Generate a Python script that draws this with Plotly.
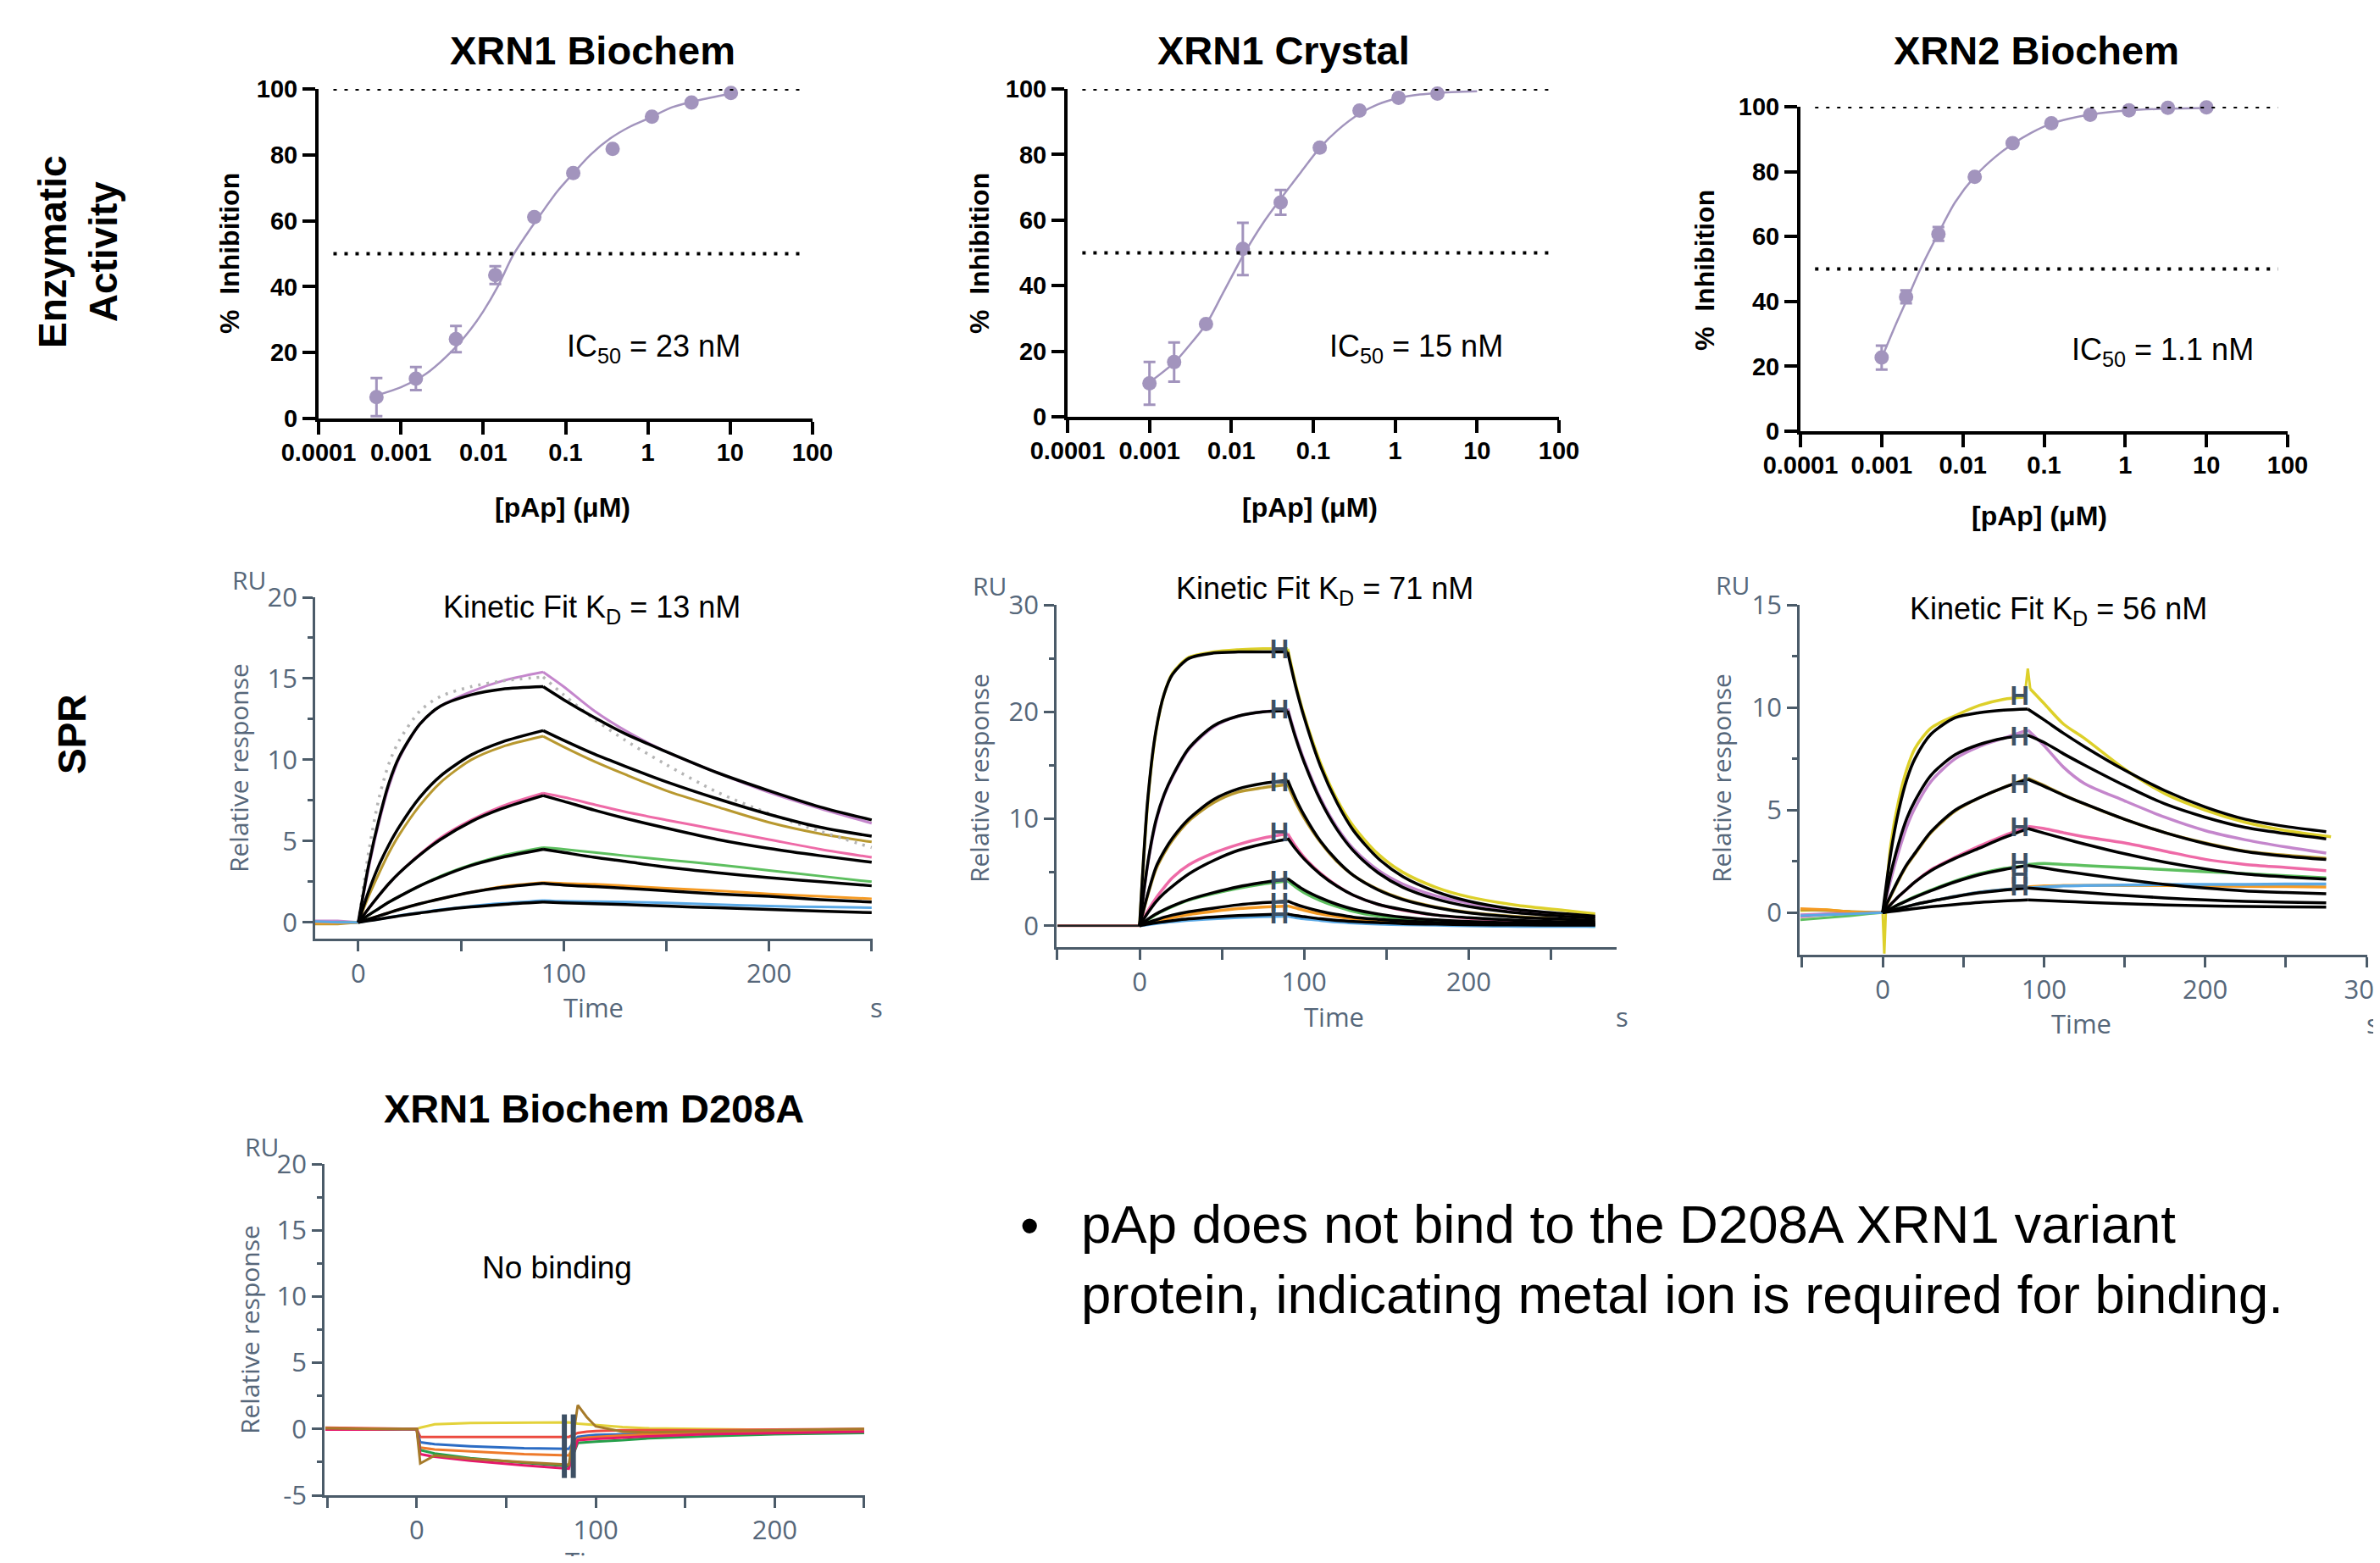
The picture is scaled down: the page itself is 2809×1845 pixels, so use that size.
import plotly.graph_objects as go

W, H = 2809, 1845          # browser window (reference) size
PAD = 8                    # default page margin around the plot div
FW, FH = W - 2 * PAD, H - 2 * PAD
DOM_DX = 4                 # horizontal nudge for plot areas


def fx(px):
    return (px - PAD) / FW


def fy(py):
    return 1 - (py - PAD) / FH


def dx(px):
    return fx(px + DOM_DX)


# ---------------- Enzymatic activity (dose-response) ----------------
X_TICKS = [0.0001, 0.001, 0.01, 0.1, 1, 10, 100]
X_TICK_TEXT = ["0.0001", "0.001", "0.01", "0.1", "1", "10", "100"]
Y_TICKS = [0, 20, 40, 60, 80, 100]
G_Y_TICKS = [-5, 0, 5, 10, 15, 20]
G_Y_TICK_TEXT = ["-5", "0", "5", "10", "15", "20"]

A_CONC = [0.000505, 0.00152, 0.00466, 0.014, 0.0417, 0.124, 0.373, 1.12, 3.39, 10.2]
A_INH = [6.5, 12.1, 24.1, 43.5, 61.1, 74.5, 81.8, 91.6, 95.9, 98.8]
A_ERR = [5.8, 3.5, 4.0, 2.7, 0, 0, 0, 0, 0, 0]
A_FIT_X = [0.0005, 0.001, 0.002, 0.004, 0.007, 0.01, 0.015, 0.023, 0.035, 0.05,
           0.08, 0.12, 0.2, 0.35, 0.6, 1, 2, 4, 10]
A_FIT_Y = [7.0, 9.5, 13.5, 20, 27, 32.5, 40, 49.5, 56.5, 62,
           69, 74, 80, 85, 88.5, 91, 94.5, 96.5, 98.5]

B_CONC = [0.001, 0.002, 0.0049, 0.0138, 0.040, 0.12, 0.367, 1.1, 3.28]
B_INH = [10.2, 16.7, 28.3, 51.2, 65.4, 82.1, 93.4, 97.3, 98.6]
B_ERR = [6.5, 6.0, 0, 8.0, 3.8, 0, 0, 0, 0]
B_FIT_X = [0.001, 0.002, 0.003, 0.005, 0.008, 0.0145, 0.025, 0.04, 0.07, 0.12,
           0.2, 0.37, 0.6, 1.1, 2, 3.3, 10]
B_FIT_Y = [10.5, 16.5, 21.5, 28.5, 38, 50, 59.5, 66.5, 74.5, 82,
           87.5, 92.5, 95.2, 97.2, 98.3, 98.8, 99.3]

C_CONC = [0.001, 0.002, 0.005, 0.014, 0.041, 0.123, 0.37, 1.11, 3.35, 10]
C_INH = [22.7, 41.4, 60.8, 78.4, 88.8, 94.9, 97.5, 98.9, 99.7, 99.8]
C_ERR = [3.7, 2.0, 2.1, 0, 0, 0, 0, 0, 0, 0]
C_FIT_X = [0.001, 0.0015, 0.002, 0.003, 0.005, 0.008, 0.014, 0.025, 0.041, 0.07,
           0.123, 0.2, 0.37, 1.11, 3.35, 10]
C_FIT_Y = [22.5, 33, 40, 50, 61, 70.5, 78.5, 84.5, 88.5, 92,
           94.8, 96.3, 97.6, 98.9, 99.4, 99.6]

# ---------------- SPR: XRN1 Biochem (KD 13 nM) ----------------
D_T_BASE = [-21, -10, 0]
D_T_ASSOC = [0, 5, 10, 15, 20, 30, 40, 55, 70, 90]
D_T_DISS = [90, 100, 115, 130, 150, 175, 200, 225, 250]
D_DATA_BASE = [[0.1, 0.1, 0], [-0.1, -0.1, 0], [0.0, 0.0, 0], [0.0, 0.0, 0],
               [-0.05, -0.05, 0], [0.05, 0.0, 0]]
D_DATA_ASSOC = [
    [0, 3.3, 6.1, 8.4, 10.1, 12.2, 13.3, 14.2, 14.85, 15.4],
    [0, 1.6, 3.0, 4.3, 5.4, 7.2, 8.6, 10.0, 10.8, 11.45],
    [0, 0.85, 1.65, 2.4, 3.05, 4.2, 5.2, 6.3, 7.15, 7.95],
    [0, 0.45, 0.85, 1.25, 1.6, 2.25, 2.85, 3.55, 4.1, 4.6],
    [0, 0.2, 0.4, 0.6, 0.8, 1.15, 1.45, 1.85, 2.2, 2.45],
    [0, 0.1, 0.2, 0.3, 0.42, 0.6, 0.78, 1.0, 1.17, 1.35],
]
D_DATA_DISS = [
    [15.4, 14.5, 13.0, 11.8, 10.5, 9.2, 8.0, 7.0, 6.1],
    [11.45, 10.8, 9.9, 9.1, 8.1, 7.1, 6.15, 5.45, 4.95],
    [7.95, 7.7, 7.25, 6.8, 6.3, 5.7, 5.1, 4.5, 4.0],
    [4.6, 4.5, 4.3, 4.1, 3.85, 3.55, 3.2, 2.85, 2.5],
    [2.45, 2.4, 2.35, 2.25, 2.1, 1.95, 1.75, 1.6, 1.45],
    [1.35, 1.3, 1.28, 1.25, 1.2, 1.1, 1.0, 0.95, 0.9],
]
D_FIT_ASSOC = [
    [0, 3.5, 6.3, 8.6, 10.2, 12.2, 13.3, 14.0, 14.35, 14.5],
    [0, 1.9, 3.5, 4.8, 5.9, 7.7, 9.0, 10.3, 11.1, 11.8],
    [0, 0.85, 1.65, 2.4, 3.05, 4.15, 5.1, 6.2, 7.0, 7.8],
    [0, 0.45, 0.85, 1.25, 1.6, 2.25, 2.8, 3.5, 4.0, 4.5],
    [0, 0.2, 0.4, 0.6, 0.8, 1.15, 1.45, 1.85, 2.15, 2.4],
    [0, 0.1, 0.2, 0.3, 0.4, 0.58, 0.75, 0.95, 1.1, 1.25],
]
D_FIT_DISS = [
    [14.5, 13.7, 12.6, 11.6, 10.5, 9.2, 8.1, 7.1, 6.3],
    [11.8, 11.2, 10.35, 9.6, 8.65, 7.6, 6.65, 5.85, 5.3],
    [7.8, 7.45, 6.9, 6.4, 5.8, 5.1, 4.55, 4.1, 3.7],
    [4.5, 4.3, 4.0, 3.75, 3.4, 3.05, 2.75, 2.5, 2.25],
    [2.4, 2.3, 2.2, 2.1, 1.95, 1.75, 1.6, 1.4, 1.25],
    [1.25, 1.2, 1.15, 1.1, 1.0, 0.9, 0.8, 0.7, 0.6],
]
D_DOT_ASSOC = [0, 4.3, 7.6, 9.8, 11.2, 13.0, 13.9, 14.5, 14.85, 15.1]
D_DOT_DISS = [15.1, 14.0, 12.5, 11.2, 9.7, 8.0, 6.7, 5.6, 4.6]

# ---------------- SPR: XRN1 Crystal (KD 71 nM) ----------------
E_T_BASE = [-50, -25, 0]
E_T_ASSOC = [0, 5, 10, 15, 20, 30, 45, 60, 75, 90]
E_T_DISS = [90, 95, 100, 110, 120, 130, 145, 160, 180, 200, 230, 260, 277]
E_DATA_ASSOC = [
    [0, 11.7, 18.2, 21.7, 23.6, 25.1, 25.6, 25.8, 25.9, 25.9],
    [0, 5.8, 9.7, 12.2, 13.9, 16.5, 18.6, 19.6, 20.0, 20.2],
    [0, 2.9, 5.3, 6.8, 8.0, 9.8, 11.5, 12.5, 12.9, 13.2],
    [0, 1.4, 2.6, 3.6, 4.5, 5.7, 6.8, 7.6, 8.2, 8.6],
    [0, 0.55, 1.05, 1.45, 1.8, 2.4, 3.0, 3.5, 3.9, 4.2],
    [0, 0.2, 0.4, 0.6, 0.75, 1.05, 1.35, 1.6, 1.75, 1.85],
    [0, 0.1, 0.2, 0.3, 0.38, 0.52, 0.66, 0.77, 0.85, 0.9],
]
E_DATA_DISS = [
    [25.9, 22.5, 19.7, 15.2, 11.8, 9.3, 6.7, 5.0, 3.6, 2.7, 1.9, 1.4, 1.1],
    [20.3, 17.7, 15.5, 11.9, 9.2, 7.2, 5.2, 3.9, 2.8, 2.1, 1.4, 1.0, 0.8],
    [13.2, 11.5, 10.1, 7.8, 6.0, 4.7, 3.4, 2.5, 1.75, 1.25, 0.85, 0.6, 0.5],
    [8.6, 7.4, 6.4, 4.9, 3.75, 2.85, 2.0, 1.45, 1.0, 0.7, 0.45, 0.3, 0.25],
    [4.2, 3.6, 3.1, 2.35, 1.8, 1.35, 0.9, 0.6, 0.35, 0.2, 0.05, 0.0, -0.05],
    [1.85, 1.65, 1.45, 1.1, 0.85, 0.65, 0.45, 0.3, 0.2, 0.15, 0.1, 0.05, 0.05],
    [0.9, 0.75, 0.65, 0.5, 0.35, 0.25, 0.15, 0.1, 0.05, 0.0, -0.05, -0.05, -0.05],
]
E_FIT_ASSOC = [
    [0, 11.9, 18.3, 21.7, 23.5, 25.0, 25.5, 25.6, 25.6, 25.6],
    [0, 5.9, 9.9, 12.3, 14.0, 16.6, 18.7, 19.6, 20.0, 20.1],
    [0, 3.0, 5.5, 7.0, 8.2, 10.0, 11.8, 12.8, 13.3, 13.6],
    [0, 1.2, 2.25, 3.05, 3.7, 4.85, 6.1, 7.05, 7.65, 8.1],
    [0, 0.6, 1.1, 1.5, 1.85, 2.45, 3.1, 3.65, 4.05, 4.4],
    [0, 0.3, 0.55, 0.8, 1.0, 1.3, 1.65, 1.95, 2.15, 2.3],
    [0, 0.15, 0.27, 0.38, 0.48, 0.65, 0.82, 0.95, 1.03, 1.1],
]
E_FIT_DISS = [
    [25.6, 22.3, 19.5, 14.9, 11.5, 8.9, 6.3, 4.6, 3.2, 2.3, 1.5, 1.1, 0.9],
    [20.1, 17.5, 15.3, 11.7, 9.0, 7.0, 4.95, 3.6, 2.5, 1.8, 1.2, 0.85, 0.7],
    [13.6, 11.85, 10.35, 7.9, 6.1, 4.7, 3.35, 2.45, 1.7, 1.2, 0.8, 0.6, 0.45],
    [8.2, 7.15, 6.25, 4.8, 3.7, 2.85, 2.0, 1.5, 1.0, 0.75, 0.5, 0.35, 0.3],
    [4.4, 3.85, 3.35, 2.6, 2.0, 1.55, 1.1, 0.8, 0.55, 0.4, 0.25, 0.2, 0.15],
    [2.3, 2.0, 1.75, 1.35, 1.05, 0.8, 0.6, 0.45, 0.3, 0.2, 0.15, 0.1, 0.1],
    [1.1, 0.95, 0.85, 0.65, 0.5, 0.4, 0.3, 0.2, 0.15, 0.1, 0.07, 0.05, 0.05],
]
E_MARK_T = 85
E_MARK_Y = [25.6, 20.0, 13.2, 8.5, 4.0, 1.95, 0.8]

# ---------------- SPR: XRN2 Biochem (KD 56 nM) ----------------
F_T_BASE = [-51, -35, -20, -8, 0]
F_T_ASSOC = [0, 5, 10, 15, 20, 30, 45, 60, 75, 90]
F_T_DISS = [90, 100, 112, 125, 150, 175, 200, 225, 250, 275]
F_DATA_BASE = [
    [0.1, 0.15, 0.05, 0.0, 0.0],
    [-0.1, -0.05, 0.0, 0.0, 0.0],
    [0.15, 0.1, 0.05, 0.0, 0.0],
    [-0.2, -0.1, -0.05, 0.0, 0.0],
    [-0.35, -0.25, -0.15, -0.05, 0.0],
    [0.2, 0.15, 0.05, 0.0, 0.0],
    [-0.15, -0.1, -0.05, 0.0, 0.0],
]
F_YEL_SPIKE0_T = [0, 1, 2.5]
F_YEL_SPIKE0_Y = [0.0, -2.0, 1.2]
F_YEL_ASSOC_T = [2.5, 5, 10, 15, 20, 30, 45, 60, 75, 88]
F_YEL_ASSOC_Y = [1.2, 3.3, 5.5, 7.0, 8.0, 9.0, 9.6, 10.1, 10.4, 10.5]
F_YEL_SPIKE1_T = [88, 90, 91.5]
F_YEL_SPIKE1_Y = [10.5, 11.9, 10.9]
F_YEL_DISS_T = [91.5, 100, 112, 125, 150, 175, 200, 225, 250, 278]
F_YEL_DISS_Y = [10.9, 10.2, 9.2, 8.5, 7.0, 5.8, 5.0, 4.4, 4.0, 3.7]
F_DATA_ASSOC = [
    [0, 1.6, 3.0, 4.2, 5.1, 6.4, 7.5, 8.1, 8.5, 8.9],
    [0, 0.8, 1.6, 2.3, 2.85, 3.9, 4.95, 5.6, 6.1, 6.55],
    [0, 0.4, 0.8, 1.15, 1.5, 2.1, 2.7, 3.25, 3.75, 4.2],
    [0, 0.2, 0.4, 0.6, 0.78, 1.1, 1.55, 1.9, 2.15, 2.3],
    [0, 0.1, 0.2, 0.3, 0.4, 0.56, 0.8, 1.0, 1.12, 1.2],
    [0, 0.1, 0.2, 0.3, 0.4, 0.56, 0.8, 1.0, 1.12, 1.2],
]
F_DATA_DISS = [
    [8.9, 8.15, 7.1, 6.3, 5.45, 4.65, 4.0, 3.55, 3.2, 2.9],
    [6.55, 6.2, 5.75, 5.3, 4.55, 3.9, 3.4, 3.0, 2.8, 2.65],
    [4.2, 4.1, 3.9, 3.7, 3.4, 3.0, 2.6, 2.35, 2.2, 2.05],
    [2.35, 2.4, 2.35, 2.3, 2.2, 2.1, 2.0, 1.9, 1.8, 1.7],
    [1.25, 1.3, 1.32, 1.33, 1.33, 1.32, 1.3, 1.28, 1.27, 1.25],
    [1.2, 1.25, 1.3, 1.32, 1.35, 1.37, 1.38, 1.38, 1.4, 1.4],
]
F_FIT_ASSOC = [
    [0, 2.9, 5.0, 6.5, 7.5, 8.7, 9.5, 9.75, 9.87, 9.92],
    [0, 1.9, 3.4, 4.6, 5.45, 6.7, 7.7, 8.2, 8.5, 8.65],
    [0, 0.85, 1.65, 2.35, 2.9, 3.95, 5.0, 5.6, 6.1, 6.5],
    [0, 0.4, 0.8, 1.15, 1.5, 2.05, 2.65, 3.15, 3.65, 4.1],
    [0, 0.2, 0.4, 0.58, 0.75, 1.07, 1.5, 1.85, 2.1, 2.3],
    [0, 0.1, 0.2, 0.3, 0.4, 0.56, 0.78, 0.97, 1.1, 1.2],
    [0, 0.05, 0.1, 0.15, 0.2, 0.29, 0.4, 0.5, 0.57, 0.62],
]
F_FIT_DISS = [
    [9.92, 9.4, 8.75, 8.1, 6.95, 5.95, 5.15, 4.55, 4.2, 3.95],
    [8.65, 8.3, 7.75, 7.2, 6.2, 5.3, 4.65, 4.15, 3.85, 3.6],
    [6.5, 6.16, 5.73, 5.31, 4.55, 3.9, 3.37, 2.98, 2.75, 2.59],
    [4.1, 3.88, 3.62, 3.35, 2.87, 2.46, 2.13, 1.88, 1.74, 1.63],
    [2.3, 2.18, 2.03, 1.88, 1.61, 1.38, 1.2, 1.06, 0.98, 0.92],
    [1.2, 1.14, 1.06, 0.98, 0.84, 0.72, 0.62, 0.55, 0.51, 0.48],
    [0.62, 0.59, 0.55, 0.51, 0.44, 0.38, 0.33, 0.3, 0.28, 0.27],
]
F_MARK_T = 85
F_MARK_Y = [10.45, 8.45, 6.15, 4.05, 2.3, 1.75, 1.15]

# ---------------- SPR: XRN1 Biochem D208A (no binding) ----------------
G_T = [-51, -25, 0, 2, 10, 30, 60, 85, 90, 95, 100, 115, 130, 160, 200, 250]
G_YELLOW = [0.0, 0.0, 0.0, 0.1, 0.35, 0.45, 0.5, 0.5, 0.4, 0.35, 0.3, 0.15, 0.05, 0.0, -0.05, -0.15]
G_RED = [0.1, 0.05, 0.0, -0.6, -0.6, -0.62, -0.6, -0.6, -0.3, -0.2, -0.15, -0.1, -0.1, -0.1, -0.05, 0.0]
G_BLUE = [0.0, -0.05, 0.0, -1.0, -1.15, -1.3, -1.45, -1.5, -0.6, -0.5, -0.45, -0.4, -0.35, -0.25, -0.15, -0.05]
G_ORANGE = [0.05, 0.0, 0.0, -1.4, -1.55, -1.7, -1.9, -2.0, -0.75, -0.65, -0.6, -0.5, -0.4, -0.3, -0.2, -0.1]
G_GREEN = [0.0, -0.05, 0.0, -1.6, -1.85, -2.2, -2.55, -2.8, -1.05, -1.0, -0.95, -0.85, -0.7, -0.55, -0.4, -0.3]
G_MAGENTA = [-0.05, -0.05, 0.0, -1.9, -2.1, -2.4, -2.75, -3.0, -0.85, -0.8, -0.75, -0.65, -0.55, -0.4, -0.3, -0.2]
G_BROWN = [0.05, 0.0, 0.0, -2.6, -2.0, -2.25, -2.5, -2.7, 1.8, 0.9, 0.2, -0.2, -0.25, -0.2, -0.1, 0.0]
G_BAR_T = [82.5, 87.5]
G_BAR_Y = [1.1, -3.7]

# ---------------- styles ----------------
DOSE_COLOR = "#a294bd"
SPR_AX = "#4b5b69"
SPR_TXT = "#56677a"
MARK_COLOR = "#3d5064"
C_PURPLE, C_OLIVE, C_PINK = "#c486cc", "#b8982f", "#ee6aa7"
C_GREEN, C_ORANGE, C_BLUE, C_YELLOW = "#5dbf5f", "#f59a23", "#5aa9e6", "#ddd02a"
D_COLORS = [C_PURPLE, C_OLIVE, C_PINK, C_GREEN, C_ORANGE, C_BLUE]
EF_COLORS = [C_YELLOW, C_PURPLE, C_OLIVE, C_PINK, C_GREEN, C_ORANGE, C_BLUE]
G_COLORS = ["#e3d23a", "#ec4a3f", "#2b6cc4", "#ee7a2b", "#25a04a", "#e5176a", "#a67a2a"]

fig = go.Figure()


def line(xa, ya, t, y, color, width=3, shape="spline", dash=None):
    fig.add_trace(go.Scatter(x=t, y=y, mode="lines", xaxis=xa, yaxis=ya,
                             line=dict(color=color, width=width, shape=shape,
                                       smoothing=0.8, dash=dash),
                             hoverinfo="skip", showlegend=False))


# ---- dose response panels ----
for xa, ya, cx, cy, ce, fxs, fys in [
    ("x", "y", A_CONC, A_INH, A_ERR, A_FIT_X, A_FIT_Y),
    ("x2", "y2", B_CONC, B_INH, B_ERR, B_FIT_X, B_FIT_Y),
    ("x3", "y3", C_CONC, C_INH, C_ERR, C_FIT_X, C_FIT_Y),
]:
    line(xa, ya, fxs, fys, DOSE_COLOR, width=2.5)
    fig.add_trace(go.Scatter(
        x=cx, y=cy, mode="markers", xaxis=xa, yaxis=ya, cliponaxis=False,
        marker=dict(color=DOSE_COLOR, size=17),
        error_y=dict(type="data", array=ce, visible=True, color=DOSE_COLOR,
                     thickness=3, width=7),
        hoverinfo="skip", showlegend=False))

# ---- SPR panel D ----
for i, c in enumerate(D_COLORS):
    line("x4", "y4", D_T_BASE, D_DATA_BASE[i], c, 3, "linear")
    line("x4", "y4", D_T_ASSOC, D_DATA_ASSOC[i], c, 3)
    line("x4", "y4", D_T_DISS, D_DATA_DISS[i], c, 3)
line("x4", "y4", D_T_ASSOC, D_DOT_ASSOC, "#b5b5b5", 3.5, dash="3px,7px")
line("x4", "y4", D_T_DISS, D_DOT_DISS, "#b5b5b5", 3.5, dash="3px,7px")
for i in range(len(D_FIT_ASSOC)):
    line("x4", "y4", D_T_ASSOC, D_FIT_ASSOC[i], "black", 3.5)
    line("x4", "y4", D_T_DISS, D_FIT_DISS[i], "black", 3.5)

# ---- SPR panel E ----
for i, c in enumerate(EF_COLORS):
    line("x5", "y5", E_T_ASSOC, E_DATA_ASSOC[i], c, 3.5)
    line("x5", "y5", E_T_DISS, E_DATA_DISS[i], c, 3.5)
line("x5", "y5", E_T_BASE, [0, 0, 0], "#e05050", 3, "linear")
line("x5", "y5", E_T_BASE, [0, 0, 0], "#222222", 2.5, "linear")
for i in range(len(E_FIT_ASSOC)):
    line("x5", "y5", E_T_ASSOC, E_FIT_ASSOC[i], "black", 3.5)
    line("x5", "y5", E_T_DISS, E_FIT_DISS[i], "black", 3.5)

# ---- SPR panel F ----
line("x6", "y6", F_T_BASE, F_DATA_BASE[0], C_YELLOW, 3, "linear")
line("x6", "y6", F_YEL_SPIKE0_T, F_YEL_SPIKE0_Y, C_YELLOW, 3, "linear")
line("x6", "y6", F_YEL_ASSOC_T, F_YEL_ASSOC_Y, C_YELLOW, 3.5)
line("x6", "y6", F_YEL_SPIKE1_T, F_YEL_SPIKE1_Y, C_YELLOW, 3, "linear")
line("x6", "y6", F_YEL_DISS_T, F_YEL_DISS_Y, C_YELLOW, 3.5)
for i, c in enumerate(EF_COLORS[1:]):
    line("x6", "y6", F_T_BASE, F_DATA_BASE[i + 1], c, 3, "linear")
    line("x6", "y6", F_T_ASSOC, F_DATA_ASSOC[i], c, 3.5)
    line("x6", "y6", F_T_DISS, F_DATA_DISS[i], c, 3.5)
for i in range(len(F_FIT_ASSOC)):
    line("x6", "y6", F_T_ASSOC, F_FIT_ASSOC[i], "black", 3.5)
    line("x6", "y6", F_T_DISS, F_FIT_DISS[i], "black", 3.5)

# injection-end markers
for xa, ya, mt, my in [("x5", "y5", E_MARK_T, E_MARK_Y), ("x6", "y6", F_MARK_T, F_MARK_Y)]:
    fig.add_trace(go.Scatter(
        x=[mt] * len(my), y=my, mode="text", text=["H"] * len(my),
        xaxis=xa, yaxis=ya, cliponaxis=False,
        textfont=dict(family="Liberation Sans", size=31, color=MARK_COLOR, weight="bold"),
        hoverinfo="skip", showlegend=False))

# ---- SPR panel G ----
for yv, c in zip([G_YELLOW, G_RED, G_BLUE, G_ORANGE, G_GREEN, G_MAGENTA, G_BROWN], G_COLORS):
    line("x7", "y7", G_T, yv, c, 3, "linear")
for bt in G_BAR_T:
    line("x7", "y7", [bt, bt], G_BAR_Y, MARK_COLOR, 6, "linear")

# ---------------- axes ----------------
bold_tick = dict(family="Liberation Sans", size=29, color="black", weight="bold")


def prism_x(x0, x1, anchor):
    return dict(type="log", range=[-4, 2], domain=[dx(x0), dx(x1)], anchor=anchor,
                showline=True, linecolor="black", linewidth=4, ticks="outside",
                ticklen=15, tickwidth=4, tickcolor="black", tickvals=X_TICKS,
                ticktext=X_TICK_TEXT, tickfont=bold_tick, showgrid=False,
                zeroline=False, automargin=False, ticklabelstandoff=-4)


def prism_y(ytop, ybot, anchor):
    return dict(range=[0, 100], domain=[fy(ybot), fy(ytop)], anchor=anchor,
                showline=True, linecolor="black", linewidth=4, ticks="outside",
                ticklen=15, tickwidth=4, tickcolor="black", tickvals=Y_TICKS,
                tickfont=bold_tick, showgrid=False, zeroline=False, automargin=False)


spr_tick = dict(family="Open Sans", size=31, color=SPR_TXT)


def spr_x(x0, x1, rng, anchor):
    return dict(range=rng, domain=[dx(x0), dx(x1)], anchor=anchor, showline=True,
                linecolor=SPR_AX, linewidth=2.5, ticks="outside", ticklen=12,
                tickwidth=2.5, tickcolor=SPR_AX, tick0=0, dtick=100,
                tickfont=spr_tick, showgrid=False, zeroline=False, automargin=False,
                ticklabeloverflow="allow",
                minor=dict(ticks="outside", tick0=0, dtick=50, ticklen=12,
                           tickwidth=2.5, tickcolor=SPR_AX, showgrid=False))


def spr_y(ytop, ybot, rng, dt, anchor):
    return dict(range=rng, domain=[fy(ybot), fy(ytop)], anchor=anchor, showline=True,
                linecolor=SPR_AX, linewidth=2.5, ticks="outside", ticklen=12,
                tickwidth=2.5, tickcolor=SPR_AX, tick0=0, dtick=dt,
                tickfont=spr_tick, showgrid=False, zeroline=False, automargin=False,
                minor=dict(ticks="outside", tick0=0, dtick=dt / 2, ticklen=6,
                           tickwidth=2.5, tickcolor=SPR_AX, showgrid=False))


yaxis7 = spr_y(1374, 1765, [-5, 20], 5, "x7")
yaxis7.update(tickmode="array", tickvals=G_Y_TICKS, ticktext=G_Y_TICK_TEXT)

layout = dict(
    width=FW, height=FH, margin=dict(l=0, r=0, t=0, b=0),
    paper_bgcolor="white", plot_bgcolor="white", showlegend=False,
    template="none",
    xaxis=prism_x(372, 955, "y"), yaxis=prism_y(105, 494, "x"),
    xaxis2=prism_x(1256, 1836, "y2"), yaxis2=prism_y(105, 492, "x2"),
    xaxis3=prism_x(2121, 2696, "y3"), yaxis3=prism_y(126, 509, "x3"),
    xaxis4=spr_x(368, 1026, [-21, 250.5], "y4"), yaxis4=spr_y(705, 1108, [-1, 20], 5, "x4"),
    xaxis5=spr_x(1243, 1904, [-50.5, 290], "y5"), yaxis5=spr_y(714, 1118, [-2, 30], 10, "x5"),
    xaxis6=spr_x(2120, 2790, [-51.5, 300.5], "y6"), yaxis6=spr_y(714, 1127, [-2.05, 15], 5, "x6"),
    xaxis7=spr_x(379, 1017, [-51.5, 250.5], "y7"), yaxis7=yaxis7,
)
fig.update_layout(**layout)

# dotted reference lines at 50% and 100%
for xr, yr in [("x", "y"), ("x2", "y2"), ("x3", "y3")]:
    for yv in [50, 100]:
        fig.add_shape(type="line", xref=xr + " domain", yref=yr, x0=0.03, x1=0.98,
                      y0=yv, y1=yv, line=dict(color="black", width=4, dash="4px,9px"))


# ---------------- text ----------------
def ann(text, px, py, size, family="Liberation Sans", color="black", bold=False,
        angle=0, xanchor="center", yanchor="middle", align="center"):
    fig.add_annotation(text=text, x=fx(px), y=fy(py), xref="paper", yref="paper",
                       showarrow=False, textangle=angle, xanchor=xanchor,
                       yanchor=yanchor, align=align,
                       font=dict(family=family, size=size, color=color,
                                 weight="bold" if bold else "normal"))


# row labels
ann("Enzymatic<br>Activity", 92, 297, 46, bold=True, angle=-90)
ann("SPR", 85, 867, 46, bold=True, angle=-90)

# dose-response titles / labels
for title, tx, xl_x, xl_y, yl_x, yl_y, ic, icx, icy in [
    ("XRN1 Biochem", 699, 664, 599, 271, 299, "IC<sub>50</sub> = 23 nM", 771, 411),
    ("XRN1 Crystal", 1515, 1546, 599, 1156, 299, "IC<sub>50</sub> = 15 nM", 1671, 411),
    ("XRN2 Biochem", 2403, 2407, 609, 2012, 319, "IC<sub>50</sub> = 1.1 nM", 2552, 415),
]:
    ann(title, tx, 60, 47, bold=True)
    ann("[pAp] (μM)", xl_x, xl_y, 32, bold=True)
    ann("%  Inhibition", yl_x, yl_y, 32, bold=True, angle=-90)
    ann(ic, icx, icy, 36)

# SPR labels
for kd, kx, ky, rux, ruy, rrx, rry, tmx, tmy, sx in [
    ("13", 698, 719, 294, 685, 281, 907, 700, 1189, 1034),
    ("71", 1563, 697, 1168, 691, 1155, 919, 1575, 1200, 1914),
    ("56", 2429, 721, 2045, 690, 2031, 919, 2456, 1208, 2800),
]:
    ann("Kinetic Fit K<sub>D</sub> = " + kd + " nM", kx, ky, 36)
    ann("RU", rux, ruy, 30, family="Open Sans", color=SPR_TXT)
    ann("Relative response", rrx, rry, 30, family="Open Sans", color=SPR_TXT, angle=-90)
    ann("Time", tmx, tmy, 31, family="Open Sans", color=SPR_TXT)
    ann("s", sx, tmy, 31, family="Open Sans", color=SPR_TXT)

ann("XRN1 Biochem D208A", 701, 1308, 47, bold=True)
ann("No binding", 657, 1496, 37)
ann("RU", 309, 1353, 30, family="Open Sans", color=SPR_TXT)
ann("Relative response", 294, 1570, 30, family="Open Sans", color=SPR_TXT, angle=-90)
ann("Time", 702, 1843, 31, family="Open Sans", color=SPR_TXT)
ann("s", 1025, 1843, 31, family="Open Sans", color=SPR_TXT)

# bullet text
ann("•", 1215, 1447, 64)
ann("pAp does not bind to the D208A XRN1 variant<br>"
    "protein, indicating metal ion is required for binding.",
    1274, 1486, 63.5, xanchor="left", align="left")

fig.write_html("out.html")
